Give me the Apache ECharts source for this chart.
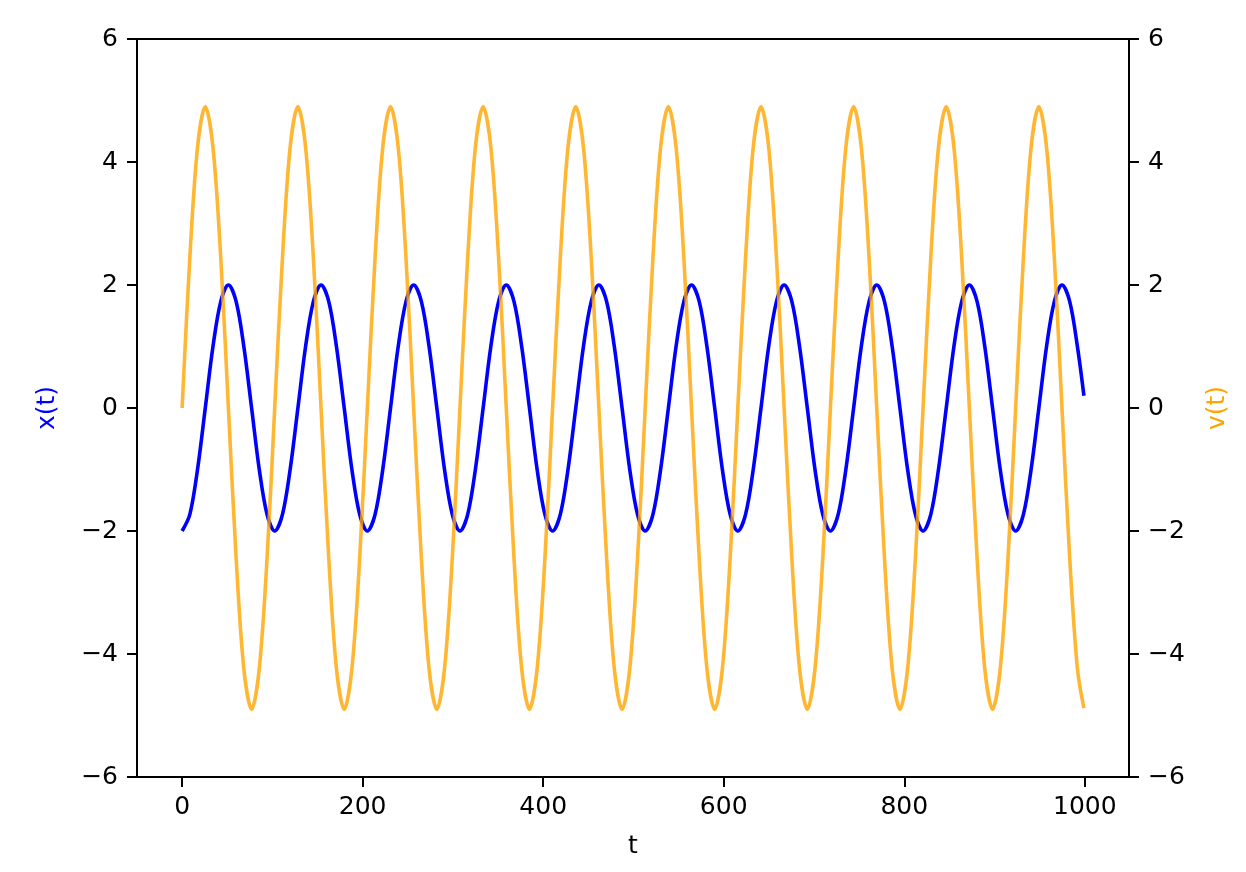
<!DOCTYPE html>
<html>
<head>
<meta charset="utf-8">
<script src="https://cdn.jsdelivr.net/npm/echarts@6/dist/echarts.min.js"></script>
<style>
html,body{margin:0;padding:0;background:#fff;}
#chart{width:1246px;height:872px;}
</style>
</head>
<body>
<div id="chart"></div>
<script>
// sample times (t)
const tValues = [
0, 8.6, 17.1, 25.7, 34.2, 42.8, 51.3, 59.9, 68.4, 77.0, 85.5, 94.1,
102.6, 111.2, 119.7, 128.3, 136.8, 145.4, 153.9, 162.5, 171.0, 179.6, 188.1, 196.7,
205.2, 213.8, 222.3, 230.9, 239.4, 248.0, 256.5, 265.1, 273.6, 282.2, 290.7, 299.3,
307.8, 316.4, 324.9, 333.5, 342.0, 350.6, 359.1, 367.7, 376.2, 384.8, 393.3, 401.9,
410.4, 419.0, 427.5, 436.1, 444.6, 453.2, 461.7, 470.3, 478.8, 487.4, 495.9, 504.5,
513.0, 521.6, 530.1, 538.7, 547.2, 555.8, 564.3, 572.9, 581.4, 590.0, 598.5, 607.1,
615.6, 624.2, 632.7, 641.3, 649.8, 658.4, 666.9, 675.5, 684.0, 692.6, 701.1, 709.7,
718.2, 726.8, 735.3, 743.9, 752.4, 761.0, 769.5, 778.1, 786.6, 795.2, 803.7, 812.3,
820.8, 829.4, 837.9, 846.5, 855.0, 863.6, 872.1, 880.7, 889.2, 897.8, 906.3, 914.9,
923.4, 932.0, 940.5, 949.1, 957.6, 966.2, 974.7, 983.3, 991.8, 999
];
// x(t) values read at those times
const xValues = [
-2, -1.73, -1, 0, 1, 1.73, 2, 1.73, 1, 0, -1, -1.73,
-2, -1.73, -1, 0, 1, 1.73, 2, 1.73, 1, 0, -1, -1.73,
-2, -1.73, -1, 0, 1, 1.73, 2, 1.73, 1, 0, -1, -1.73,
-2, -1.73, -1, 0, 1, 1.73, 2, 1.73, 1, 0, -1, -1.73,
-2, -1.73, -1, 0, 1, 1.73, 2, 1.73, 1, 0, -1, -1.73,
-2, -1.73, -1, 0, 1, 1.73, 2, 1.73, 1, 0, -1, -1.73,
-2, -1.73, -1, 0, 1, 1.73, 2, 1.73, 1, 0, -1, -1.73,
-2, -1.73, -1, 0, 1, 1.73, 2, 1.73, 1, 0, -1, -1.73,
-2, -1.73, -1, 0, 1, 1.73, 2, 1.73, 1, 0, -1, -1.73,
-2, -1.73, -1, 0, 1, 1.73, 2, 1.73, 1, 0.2
];
// v(t) values read at those times
const vValues = [
0, 2.45, 4.24, 4.9, 4.24, 2.45, 0, -2.45, -4.24, -4.9, -4.24, -2.45,
0, 2.45, 4.24, 4.9, 4.24, 2.45, 0, -2.45, -4.24, -4.9, -4.24, -2.45,
0, 2.45, 4.24, 4.9, 4.24, 2.45, 0, -2.45, -4.24, -4.9, -4.24, -2.45,
0, 2.45, 4.24, 4.9, 4.24, 2.45, 0, -2.45, -4.24, -4.9, -4.24, -2.45,
0, 2.45, 4.24, 4.9, 4.24, 2.45, 0, -2.45, -4.24, -4.9, -4.24, -2.45,
0, 2.45, 4.24, 4.9, 4.24, 2.45, 0, -2.45, -4.24, -4.9, -4.24, -2.45,
0, 2.45, 4.24, 4.9, 4.24, 2.45, 0, -2.45, -4.24, -4.9, -4.24, -2.45,
0, 2.45, 4.24, 4.9, 4.24, 2.45, 0, -2.45, -4.24, -4.9, -4.24, -2.45,
0, 2.45, 4.24, 4.9, 4.24, 2.45, 0, -2.45, -4.24, -4.9, -4.24, -2.45,
0, 2.45, 4.24, 4.9, 4.24, 2.45, 0, -2.45, -4.24, -4.88
];
const xTicks = [0, 200, 400, 600, 800, 1000];
const yTicks = [-6, -4, -2, 0, 2, 4, 6];

const FONT = 'DejaVu Sans';
const FS = 25;
const minusFmt = v => String(v).replace('-', '\u2212');

const chart = echarts.init(document.getElementById('chart'), null, {renderer: 'canvas'});
const xData = tValues.map((t, i) => [t, xValues[i]]);
const vData = tValues.map((t, i) => [t, vValues[i]]);

const yAxisCommon = {
  type: 'value', min: yTicks[0], max: yTicks[yTicks.length - 1], interval: 2,
  splitLine: {show: false},
  axisLine: {show: true, onZero: false, lineStyle: {color: '#000', width: 2}},
  axisTick: {show: true, length: 10, lineStyle: {color: '#000', width: 2}},
  axisLabel: {color: '#000', fontSize: FS, fontFamily: FONT, margin: 19, formatter: minusFmt},
  nameLocation: 'middle', nameRotate: 90
};

chart.setOption({
  animation: false,
  backgroundColor: '#fff',
  grid: {left: 137, right: 117, top: 39, bottom: 95, containLabel: false, outerBoundsMode: 'none',
         show: true, borderColor: '#000', borderWidth: 2, backgroundColor: 'transparent'},
  xAxis: {
    type: 'value', min: -49.95, max: 1048.95,
    name: 't', nameLocation: 'middle', nameGap: 57,
    nameTextStyle: {fontSize: FS, fontFamily: FONT, color: '#000'},
    splitLine: {show: false},
    axisLine: {show: true, onZero: false, lineStyle: {color: '#000', width: 2}},
    axisTick: {show: true, length: 10, customValues: xTicks, lineStyle: {color: '#000', width: 2}},
    axisLabel: {color: '#000', fontSize: FS, fontFamily: FONT, margin: 18, customValues: xTicks, formatter: minusFmt}
  },
  yAxis: [
    Object.assign({}, yAxisCommon, {position: 'left', name: 'x(t)', nameGap: 77,
      nameTextStyle: {fontSize: FS, fontFamily: FONT, color: '#0000ff'}}),
    Object.assign({}, yAxisCommon, {position: 'right', name: 'v(t)', nameGap: 76,
      nameTextStyle: {fontSize: FS, fontFamily: FONT, color: '#ffa500'}})
  ],
  series: [
    {type: 'line', name: 'x(t)', yAxisIndex: 0, data: xData, smooth: 0.33, showSymbol: false,
     lineStyle: {color: '#0000ff', width: 3.6}, z: 2},
    {type: 'line', name: 'v(t)', yAxisIndex: 1, data: vData, smooth: 0.33, showSymbol: false,
     lineStyle: {color: '#ffa500', width: 3.6, opacity: 0.8}, z: 3}
  ]
});
</script>
</body>
</html>
